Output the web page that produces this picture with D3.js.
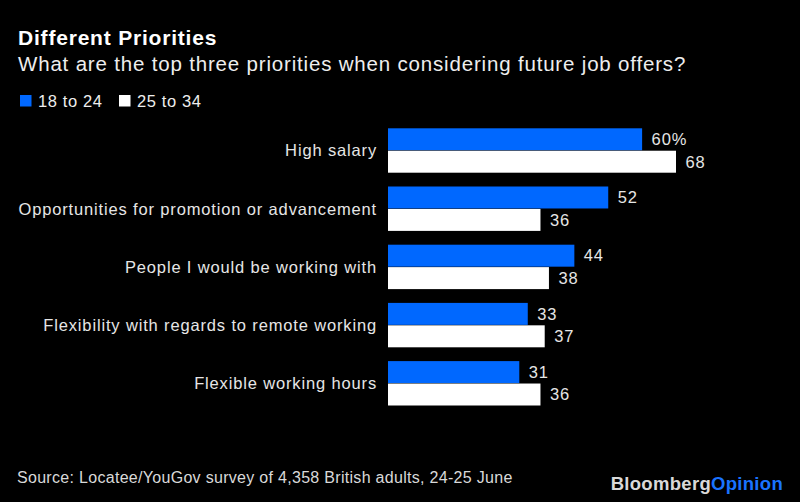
<!DOCTYPE html>
<html><head><meta charset="utf-8">
<script src="https://cdn.jsdelivr.net/npm/d3@7"></script>
<style>
html,body{margin:0;padding:0;background:#000;}
svg{display:block;font-family:"Liberation Sans",Arial,sans-serif;}
</style></head>
<body>
<svg id="chart" width="800" height="502"></svg>
<script>
const categories = ["High salary","Opportunities for promotion or advancement","People I would be working with","Flexibility with regards to remote working","Flexible working hours"];
const seriesNames = ["18 to 24","25 to 34"];
const values18to24 = [60,52,44,33,31];
const values25to34 = [68,36,38,37,36];
const colors = ["#0068ff","#ffffff"];

const svg = d3.select("#chart");
svg.append("rect").attr("width",800).attr("height",502).attr("fill","#000");

svg.append("text").attr("x",18).attr("y",45).attr("fill","#fff")
  .attr("font-size",21).attr("font-weight","bold").attr("letter-spacing",0.8).text("Different Priorities");
svg.append("text").attr("x",18).attr("y",71).attr("fill","#eee")
  .attr("font-size",20.5).attr("letter-spacing",0.82).text("What are the top three priorities when considering future job offers?");

// legend
const leg = svg.append("g");
let lx = [20,119];
seriesNames.forEach((n,i)=>{
  leg.append("rect").attr("x",lx[i]).attr("y",95).attr("width",11.5).attr("height",11.5).attr("fill",colors[i]);
  leg.append("text").attr("x",lx[i]+18).attr("y",106.5).attr("fill","#eee").attr("font-size",16.5).attr("letter-spacing",0.6).text(n);
});

const x = d3.scaleLinear().domain([0,68]).range([388,676]);
const step = 58.2, band = 44.4;
const yPos = d3.scaleOrdinal().domain(categories).range(categories.map((c,i)=>128.3+i*step));
const y1 = d3.scaleBand().domain(seriesNames).range([0,band]).paddingInner(0.02);

const data = categories.map((c,i)=>({cat:c, vals:[values18to24[i],values25to34[i]]}));

const g = svg.append("g");
const grp = g.selectAll("g.grp").data(data).join("g").attr("class","grp")
  .attr("transform",d=>`translate(0,${yPos(d.cat)})`);

grp.append("text").attr("x",377).attr("y",band/2+5.8).attr("text-anchor","end")
  .attr("fill","#e6e6e6").attr("font-size",16.5).attr("letter-spacing",0.85).text(d=>d.cat);

grp.selectAll("rect").data(d=>d.vals.map((v,j)=>({v,s:seriesNames[j],j})))
  .join("rect").attr("x",x(0)).attr("y",d=>y1(d.s)).attr("width",d=>x(d.v)-x(0))
  .attr("height",y1.bandwidth()).attr("fill",d=>colors[d.j]);

grp.selectAll("text.val").data((d,i)=>d.vals.map((v,j)=>({v,s:seriesNames[j],j,first:i===0})))
  .join("text").attr("class","val").attr("x",d=>x(d.v)+9.5).attr("y",d=>y1(d.s)+y1.bandwidth()/2+5.8)
  .attr("fill","#e6e6e6").attr("font-size",16.5).attr("letter-spacing",0.85).text(d=>d.first&&d.j===0?d.v+"%":d.v);

svg.append("text").attr("x",17).attr("y",483).attr("fill","#d9d9d9")
  .attr("font-size",16).attr("letter-spacing",0.3)
  .text("Source: Locatee/YouGov survey of 4,358 British adults, 24-25 June");

const logo = svg.append("text").attr("x",783).attr("y",490).attr("text-anchor","end")
  .attr("font-size",18.5).attr("font-weight","bold").attr("letter-spacing",0.3);
logo.append("tspan").attr("fill","#d9d9d9").text("Bloomberg");
logo.append("tspan").attr("fill","#1a73ff").text("Opinion");
</script>
</body></html>
